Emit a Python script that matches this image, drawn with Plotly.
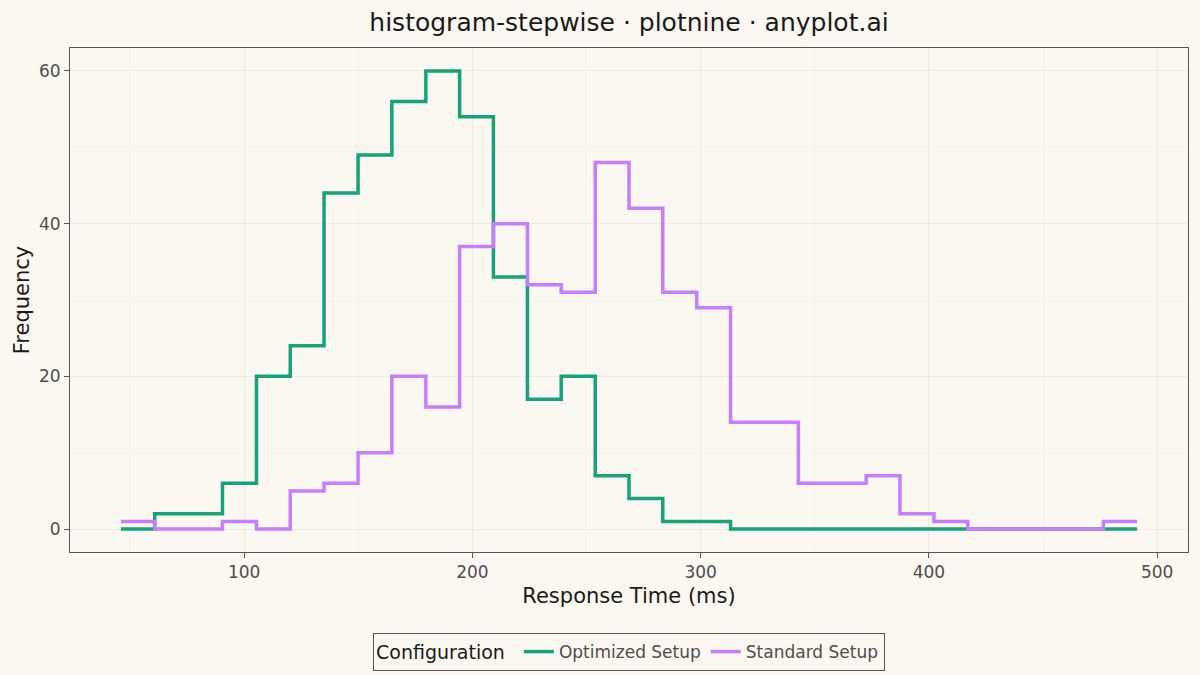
import plotly.graph_objects as go

# Bin edges (ms) and counts per bin
bin_edges = [46.0, 60.8, 75.7, 90.5, 105.4, 120.2, 135.0, 149.9, 164.7, 179.6,
             194.4, 209.2, 224.1, 238.9, 253.8, 268.6, 283.4, 298.3, 313.1, 328.0,
             342.8, 357.6, 372.5, 387.3, 402.2, 417.0, 431.8, 446.7, 461.5, 476.4, 491.2]

optimized_counts = [0, 2, 2, 6, 20, 24, 44, 49, 56, 60,
                    54, 33, 17, 20, 7, 4, 1, 1, 0, 0,
                    0, 0, 0, 0, 0, 0, 0, 0, 0, 0]

standard_counts = [1, 0, 0, 1, 0, 5, 6, 10, 20, 16,
                   37, 40, 32, 31, 48, 42, 31, 29, 14, 14,
                   6, 6, 7, 2, 1, 0, 0, 0, 0, 1]

series_names = ["Optimized Setup", "Standard Setup"]
series_colors = ["#17A37A", "#C77DFF"]

BG = "#FAF8F1"

fig = go.Figure()
for name, counts, color in zip(series_names, [optimized_counts, standard_counts], series_colors):
    # step: last bin level carried to the right edge
    fig.add_trace(go.Scatter(
        x=bin_edges,
        y=counts + [counts[-1]],
        mode="lines",
        line=dict(shape="hv", color=color, width=3.5),
        name=name,
    ))

axis_common = dict(
    showline=True, mirror=True, linecolor="#555555", linewidth=1,
    ticks="outside", ticklen=5, tickcolor="#555555",
    tickfont=dict(size=17, color="#4D4D4D"),
    gridcolor="rgba(0,0,0,0.05)", gridwidth=1,
    zeroline=False, automargin=False,
)

fig.update_xaxes(
    range=[23.7, 513.5], dtick=100, tick0=0,
    title=dict(text="Response Time (ms)", font=dict(size=21, color="#1A1A1A"), standoff=6),
    minor=dict(dtick=50, tick0=0, showgrid=True, gridcolor="rgba(0,0,0,0.025)"),
    **axis_common,
)
fig.update_yaxes(
    range=[-3, 63], dtick=20, tick0=0,
    title=dict(text="Frequency", font=dict(size=21, color="#1A1A1A"), standoff=3),
    minor=dict(dtick=10, tick0=0, showgrid=True, gridcolor="rgba(0,0,0,0.025)"),
    **axis_common,
)

fig.update_layout(
    width=1200, height=675,
    paper_bgcolor=BG, plot_bgcolor=BG,
    font=dict(family="DejaVu Sans", color="#1A1A1A"),
    title=dict(text="histogram-stepwise · plotnine · anyplot.ai",
               x=0.5, xref="paper", xanchor="center",
               y=0.967, yref="container", yanchor="middle",
               font=dict(size=25, color="#1A1A1A")),
    margin=dict(l=70, r=12, t=48, b=123),
    legend=dict(
        orientation="h", x=0.5, xanchor="center",
        y=0.034, yref="container", yanchor="middle",
        title=dict(text="Configuration ", font=dict(size=19, color="#1A1A1A")),
        font=dict(size=17, color="#4D4D4D"),
        bordercolor="#555555", borderwidth=1, bgcolor=BG,
        itemwidth=30, tracegroupgap=0,
    ),
)

fig.write_html("out.html", config={"displayModeBar": False},
               post_script="document.body.style.margin='0';")
